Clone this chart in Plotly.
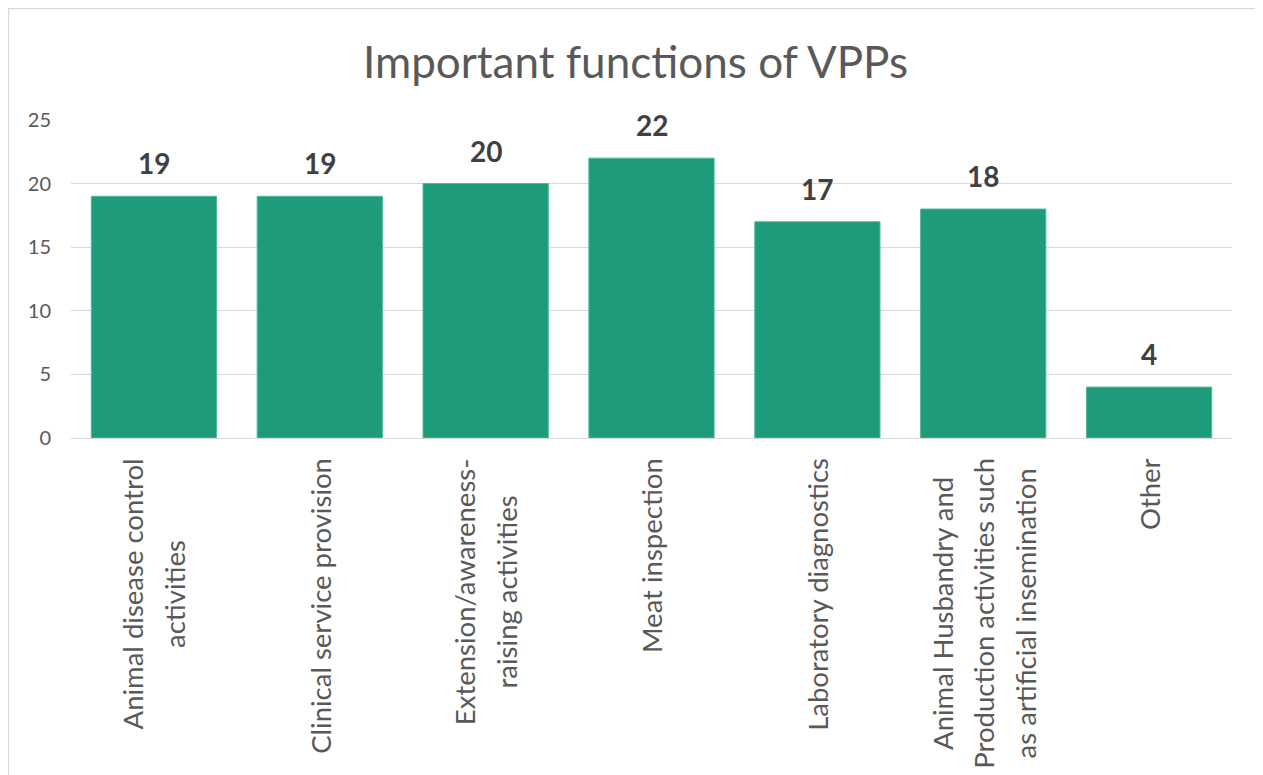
import plotly.graph_objects as go

# Chart data
categories = [
    "Animal disease control activities",
    "Clinical service provision",
    "Extension/awareness-raising activities",
    "Meat inspection",
    "Laboratory diagnostics",
    "Animal Husbandry and Production activities such as artificial insemination",
    "Other",
]
tick_labels = [
    ["Animal disease control", "activities"],
    ["Clinical service provision"],
    ["Extension/awareness-", "raising activities"],
    ["Meat inspection"],
    ["Laboratory diagnostics"],
    ["Animal Husbandry and", "Production activities such", "as artificial insemination"],
    ["Other"],
]
counts = [19, 19, 20, 22, 17, 18, 4]
y_ticks = [0, 5, 10, 15, 20, 25]

bar_color = "#1E9B7B"
text_grey = "#595959"
font_name = "Lato"

fig = go.Figure()
fig.add_trace(go.Bar(
    x=categories, y=counts,
    marker=dict(color=bar_color, line=dict(color="#4fb89a", width=1)),
    hoverinfo="x+y",
))

# value labels above the bars
for cat, val in zip(categories, counts):
    fig.add_annotation(
        x=cat, y=val, xref="x", yref="y", text=str(val), showarrow=False,
        yanchor="bottom", yshift=14,
        font=dict(family=font_name, size=28, color="#404040", weight="bold"),
    )

# rotated, centre-aligned category labels (like Excel)
# big base font only to widen the line spacing, lines drawn at 27.5px
for cat, lines in zip(categories, tick_labels):
    txt = "<br>".join('<span style="font-size:27.5px">%s</span>' % l for l in lines)
    fig.add_annotation(
        x=cat, y=0, xref="x", yref="y", text=txt, textangle=-90,
        showarrow=False, yanchor="top", yshift=-18, align="center",
        font=dict(family=font_name, size=32, color=text_grey),
    )

fig.update_layout(
    width=1255, height=775,
    margin=dict(l=63, r=31, t=112, b=345),
    paper_bgcolor="white", plot_bgcolor="white",
    bargap=0.245,
    showlegend=False,
    title=dict(text="Important functions of VPPs", x=0.5, xref="container",
               y=0.929, yanchor="middle",
               font=dict(family=font_name, size=44, color=text_grey)),
    font=dict(family=font_name, color=text_grey),
)
fig.update_xaxes(showticklabels=False, showline=False, ticks="")
fig.update_yaxes(
    range=[0, 25], tickvals=y_ticks, showgrid=True, gridcolor="#d9d9d9",
    gridwidth=1.3, zeroline=True, zerolinecolor="#d9d9d9", zerolinewidth=1.3,
    tickfont=dict(family=font_name, size=20, color=text_grey),
    ticklabelstandoff=19,
)

# light border around the chart area
fig.add_shape(type="rect", xref="paper", yref="paper",
              x0=-62.5 / 1161, x1=1189.5 / 1161, y0=-1.2, y1=1 + 111.5 / 318,
              line=dict(color="#d9d9d9", width=1.3), layer="below")

fig.write_html("out.html")
